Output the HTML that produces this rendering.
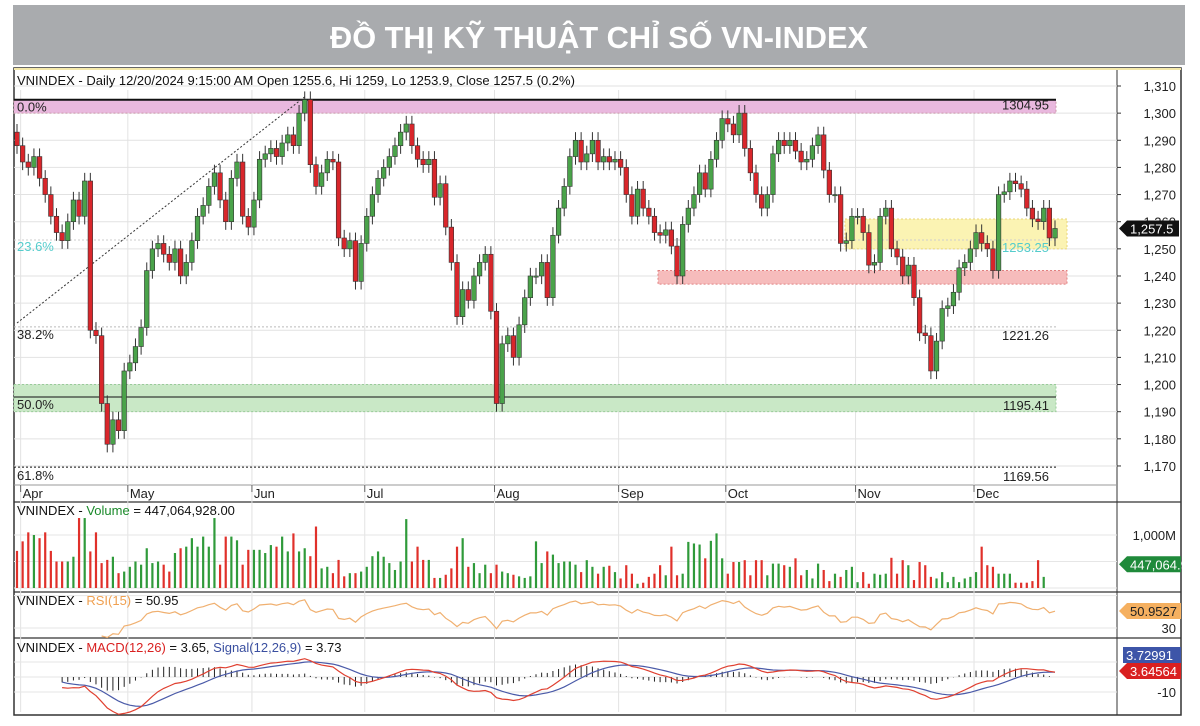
<!DOCTYPE html>
<html><head><meta charset="utf-8">
<style>
html,body{margin:0;padding:0;background:#fff;}
svg{display:block;font-family:"Liberation Sans",Arial,sans-serif;}
</style></head>
<body>
<svg id="chart" width="1200" height="726" viewBox="0 0 1200 726" xmlns="http://www.w3.org/2000/svg">
  <rect x="0" y="0" width="1200" height="726" fill="#fff"/>
  <rect x="13" y="5" width="1172" height="60" fill="#a9abae"/>
  <text x="599" y="48" text-anchor="middle" font-family="'Liberation Sans Narrow','Liberation Sans',sans-serif" font-weight="bold" font-size="31" fill="#fff" textLength="538" lengthAdjust="spacingAndGlyphs">ĐỒ THỊ KỸ THUẬT CHỈ SỐ VN-INDEX</text>
  <rect x="14" y="68" width="1167" height="647" fill="#fff" stroke="#333" stroke-width="1.5"/>
  <line x1="14" y1="69" x2="1181" y2="69" stroke="#f3e7a8" stroke-width="2"/>
  <g id="grid"></g>
  <g id="bands"></g>
  <g id="marks"></g>
  <g id="labels"></g>
  <text x="17" y="85" font-size="13" fill="#111">VNINDEX - Daily 12/20/2024 9:15:00 AM Open 1255.6, Hi 1259, Lo 1253.9, Close 1257.5 (0.2%)</text>
  <text x="17" y="515" font-size="13" fill="#111">VNINDEX - <tspan fill="#1a8a2a">Volume</tspan> = 447,064,928.00</text>
  <text x="17" y="605" font-size="13" fill="#111">VNINDEX - <tspan fill="#f0a050">RSI(15)</tspan> = 50.95</text>
  <text x="17" y="652" font-size="13" fill="#111">VNINDEX - <tspan fill="#d92020">MACD(12,26)</tspan> = 3.65, <tspan fill="#3a4fa0">Signal(12,26,9)</tspan> = 3.73</text>
</svg>
<script>
const closes = [
1288,1282,1280,1284,1276,1270,1262,1256,1253,1260,1268,1262,1275,1220,1218,1193,1178,1187,1183,1205,
1208,1214,1221,1242,1250,1252,1248,1245,1250,1240,1245,1253,1262,1266,1273,1278,1268,1260,1276,1282,1262,1258,
1268,1283,1285,1287,1284,1289,1292,1288,1300,1305,1281,1273,1278,1283,1282,1254,1250,1253,1238,1252,
1262,1270,1276,1280,1284,1288,1293,1296,1288,1283,1281,1283,1269,1274,1258,1245,1225,1235,1231,1240,1245,1248,1227,
1193,1215,1218,1210,1222,1232,1240,1240,1245,1232,1255,1265,1273,1284,1290,1282,1285,1290,1282,1284,1282,1283,
1280,1270,1262,1272,1265,1262,1256,1255,1257,1251,1240,1259,1265,1270,1278,1272,1283,1290,1298,
1296,1292,1300,1287,1278,1270,1265,1270,1285,1290,1288,1290,1286,1282,1283,1288,1292,1279,1270,1270,1252,1253,1262,
1262,1256,1244,1245,1262,1265,1250,1247,1240,1244,1232,1219,1218,1205,1216,1228,1229,1234,1243,1245,1250,
1256,1252,1250,1242,1270,1271,1275,1274,1272,1265,1261,1260,1265,1254,1257.5];
const firstOpen = 1293;
const volumes = [
700,880,1050,1000,940,1050,700,500,500,500,590,1320,1320,690,1050,470,530,590,280,310,400,500,440,750,470,500,440,310,660,750,780,940,780,970,780,1320,440,970,970,900,440,720,720,720,660,810,780,970,690,1030,690,750,600,1160,370,400,280,530,220,280,280,310,400,600,690,590,470,340,500,1300,500,780,530,530,190,190,250,370,780,940,400,470,280,440,280,440,310,280,250,220,190,220,880,470,690,630,470,500,500,440,300,
525,400,270,400,420,300,180,430,270,80,100,210,270,430,240,780,240,270,870,840,820,560,890,1030,560,270,490,490,525,240,525,525,240,460,460,430,400,560,240,340,180,460,340,130,270,210,340,400,110,300,80,270,250,270,570,270,525,430,150,490,430,210,180,300,110,210,110,180,210,300,780,430,400,270,270,270,100,100,100,130,525,210];
const priceTicks = [1170,1180,1190,1200,1210,1220,1230,1240,1250,1260,1270,1280,1290,1300,1310];
const months = ["Apr","May","Jun","Jul","Aug","Sep","Oct","Nov","Dec"];
const monthStartIdx = [1,20,42,62,85,107,126,149,170];
const fibLevels = [1304.95,1253.25,1221.26,1195.41,1169.56];
const fibNames = ["0.0%","23.6%","38.2%","50.0%","61.8%"];

const NS="http://www.w3.org/2000/svg";
function mk(tag,attrs,parent){const e=document.createElementNS(NS,tag);for(const k in attrs)e.setAttribute(k,attrs[k]);parent.appendChild(e);return e;}
const grid=document.getElementById('grid'),bands=document.getElementById('bands'),marks=document.getElementById('marks'),labels=document.getElementById('labels');
const N=closes.length;
const X0=17,X1=1055,PLOTR=1117;
const xs=i=>X0+i*(X1-X0)/(N-1);
const yP=v=>86+(1310-v)*2.714;
const VB=588,yV=v=>VB-v*0.053;
const yR=v=>628-(v-30)*0.81;
const yM=v=>677-v*1.5;

[[502],[592],[638]].forEach(([y])=>{const l=mk('line',{x1:14,y1:y,x2:1181,y2:y,stroke:'#333','stroke-width':1.2},grid);});
mk('line',{x1:PLOTR,y1:70,x2:PLOTR,y2:715,stroke:'#333','stroke-width':1},grid);
mk('line',{x1:14,y1:485,x2:PLOTR,y2:485,stroke:'#999','stroke-width':1},grid);

priceTicks.forEach(v=>{
  const y=yP(v);
  mk('line',{x1:14,y1:y,x2:PLOTR,y2:y,stroke:'#e2e2e2','stroke-width':1},grid);
  mk('line',{x1:PLOTR,y1:y,x2:PLOTR+4,y2:y,stroke:'#333'},grid);
  const t=mk('text',{x:1176,y:y+5,'text-anchor':'end','font-size':13,fill:'#222'},labels);
  t.textContent=v.toLocaleString('en-US');
  
  
});
months.forEach((m,k)=>{
  const x=xs(monthStartIdx[k])-2;
  mk('line',{x1:x,y1:90,x2:x,y2:712,stroke:'#e2e2e2'},grid);
  mk('line',{x1:x,y1:485,x2:x,y2:492,stroke:'#666'},grid);
  const t=mk('text',{x:x+2,y:498,'font-size':13,fill:'#222'},labels);
  t.textContent=m;
  
  
});
[[yV(0)],[yV(500)],[yV(1000)],[yR(30)],[yR(70)],[yM(10)],[yM(0)],[yM(-10)]].forEach(([y])=>mk('line',{x1:14,y1:y,x2:PLOTR,y2:y,stroke:'#e6e6e6'},grid));

function band(x1,x2,v1,v2,fill,stroke,name){const r=mk('rect',{x:x1,y:yP(v1),width:x2-x1,height:yP(v2)-yP(v1),fill:fill,stroke:stroke,'stroke-dasharray':'2,2','stroke-width':1},bands);}
band(14,1056,1304.95,1300,'#e9b8de','#c9a','fib-band-top');
band(845,1067,1261,1250,'#fbf3b3','#e8d67a','resistance-zone-yellow');
band(658,1067,1242,1237,'#f6bcbc','#e08080','support-zone-red');
band(14,1056,1200,1190,'#c9e8c6','#9c9','support-zone-green');
const fibLineColor=['#111','#ccc','#bbb','#111','#111'];
const fibDash=['none','2,2','2,2','none','2,2'];
const labelOffL=[12,11,12,12,13];
const labelOffR=[10,12,13,13,14];
fibLevels.forEach((v,k)=>{
  const y=yP(v);
  mk('line',{x1:14,y1:y,x2:1056,y2:y,stroke:fibLineColor[k],'stroke-width':k===0?2:1,'stroke-dasharray':fibDash[k]},bands);
  const tl=mk('text',{x:17,y:y+labelOffL[k],'font-size':13,fill:k===1?'#5cc':'#222'},labels);
  tl.textContent=fibNames[k];
  
  
  const tv=mk('text',{x:1049,y:y+labelOffR[k],'text-anchor':'end','font-size':13,fill:k===1?'#5cc':'#222'},labels);
  tv.textContent=v.toFixed(2);
  
  
});
mk('line',{x1:17,y1:323,x2:xs(51),y2:yP(1306),stroke:'#333','stroke-dasharray':'2,2'},bands);

const opens=closes.map((c,i)=>i===0?firstOpen:closes[i-1]);
for(let i=0;i<N;i++){
  const o=opens[i],c=closes[i],x=xs(i);
  const up=c>=o;
  const hi=Math.max(o,c)+3,lo=Math.min(o,c)-3;
  const g=mk('g',{},marks);
  
  
  mk('line',{x1:x,y1:yP(hi),x2:x,y2:yP(lo),stroke:'#333','stroke-width':1},g);
  const top=yP(Math.max(o,c)),bot=yP(Math.min(o,c));
  mk('rect',{x:x-2.3,y:top,width:4.6,height:Math.max(1.2,bot-top),fill:up?'#4aa34a':'#d9262b',stroke:'#333','stroke-width':0.6},g);
  const v=mk('rect',{x:x-1.1,y:yV(volumes[i]),width:2.2,height:volumes[i]*0.053,fill:up?'#2f9a3a':'#e0302a'},marks);
  
  
}
const rsi=[];let ag=0,al=0;
for(let i=1;i<N;i++){const d=closes[i]-closes[i-1];const g=Math.max(d,0),l=Math.max(-d,0);
  if(i<=15){ag+=g/15;al+=l/15;if(i===15)rsi[i]=100-100/(1+ag/(al||1e-9));}
  else{ag=(ag*14+g)/15;al=(al*14+l)/15;rsi[i]=100-100/(1+ag/(al||1e-9));}}
let pts=[];for(let i=15;i<N;i++)pts.push(xs(i).toFixed(1)+','+yR(rsi[i]).toFixed(1));
const rl=mk('polyline',{points:pts.join(' '),fill:'none',stroke:'#f0b070','stroke-width':1.2},marks);


function ema(arr,n){const k=2/(n+1);const out=[];arr.forEach((v,i)=>out.push(i===0?v:v*k+out[i-1]*(1-k)));return out;}
const e12=ema(closes,12),e26=ema(closes,26);
const macd=closes.map((_,i)=>e12[i]-e26[i]);
const sig=ema(macd,9);
let mp=[],sp=[];
for(let i=8;i<N;i++){mp.push(xs(i).toFixed(1)+','+yM(macd[i]).toFixed(1));sp.push(xs(i).toFixed(1)+','+yM(sig[i]).toFixed(1));
  const h=macd[i]-sig[i];
  const hb=mk('line',{x1:xs(i),y1:yM(0),x2:xs(i),y2:yM(h*1.0),stroke:'#222','stroke-width':1},marks);
  
  
}
const sl=mk('polyline',{points:sp.join(' '),fill:'none',stroke:'#4a5aa8','stroke-width':1.2},marks);


const ml=mk('polyline',{points:mp.join(' '),fill:'none',stroke:'#e04030','stroke-width':1.2},marks);



function tag(y,w,fill,txt,color,name){
  const g=mk('g',{},labels);
  
  
  mk('path',{d:`M${PLOTR+2},${y} L${PLOTR+10},${y-8} L${PLOTR+10+w},${y-8} L${PLOTR+10+w},${y+8} L${PLOTR+10},${y+8} Z`,fill:fill},g);
  const t=mk('text',{x:PLOTR+13,y:y+5,'font-size':13,fill:color},g);t.textContent=txt;
}
tag(yP(1257.5),52,'#111','1,257.5','#fff','last-price-tag');
const vt=mk('text',{x:1176,y:yV(1000)+5,'text-anchor':'end','font-size':13,fill:'#222'},labels);vt.textContent='1,000M';
tag(yV(447),54,'#1f8a3a','447,064.9','#fff','last-volume-tag');
tag(yR(50.95),54,'#f5b060','50.9527','#222','rsi-value-tag');
const rt=mk('text',{x:1176,y:yR(30)+5,'text-anchor':'end','font-size':13,fill:'#222'},labels);rt.textContent='30';
const bt=mk('rect',{x:PLOTR+6,y:647,width:58,height:16,fill:'#3d55a8'},labels);
const btt=mk('text',{x:PLOTR+9,y:660,'font-size':13,fill:'#fff'},labels);btt.textContent='3.72991';
tag(671,54,'#d92020','3.64564','#fff','macd-value-tag');
const mt=mk('text',{x:1176,y:yM(-10)+5,'text-anchor':'end','font-size':13,fill:'#222'},labels);mt.textContent='-10';
</script>
</body></html>
